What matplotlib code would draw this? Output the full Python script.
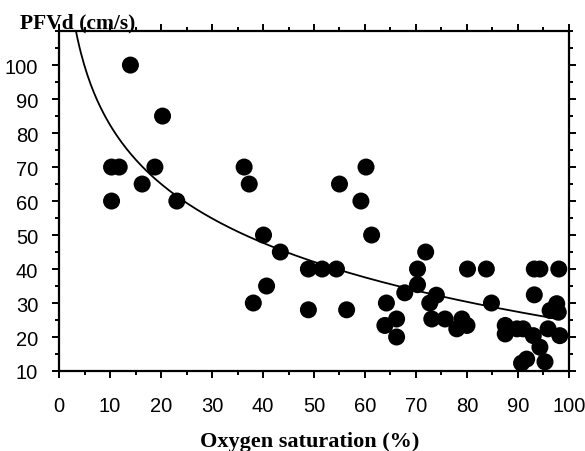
import numpy as np
import matplotlib
matplotlib.use("Agg")
import matplotlib.pyplot as plt
from matplotlib.ticker import MultipleLocator

# ── Data ──────────────────────────────────────────────────────────
oxygen_sat = [10.3, 10.3, 11.8, 14.0, 16.3, 18.8, 20.3, 23.1,
              36.3, 37.3, 38.1, 40.1, 40.7, 43.4,
              48.9, 48.9, 51.6, 54.4, 55.0, 56.4, 59.2, 60.2, 61.3,
              63.9, 64.2, 66.2, 66.2, 67.8, 70.3, 70.3, 71.9, 72.7, 74.0,
              73.1, 75.7, 78.0, 79.0, 80.0, 80.1, 83.8, 84.8,
              87.5, 87.5, 89.8, 91.0, 93.0, 94.3, 90.7, 91.7, 95.3,
              93.2, 94.3, 98.0, 93.2, 97.6, 96.3, 97.9, 95.9, 98.2]
pfvd = [60, 70, 70, 100, 65, 70, 85, 60,
        70, 65, 30, 50, 35, 45,
        40, 28, 40, 40, 65, 28, 60, 70, 50,
        23.4, 30, 25.3, 20, 33, 40, 35.4, 45, 30, 32.3,
        25.3, 25.3, 22.4, 25.3, 23.4, 40, 40, 30,
        23.4, 20.9, 22.4, 22.4, 20.4, 17, 12.3, 13.5, 12.7,
        40, 40, 40, 32.4, 29.8, 27.8, 27.3, 22.4, 20.4]

X_TICKS = [0, 10, 20, 30, 40, 50, 60, 70, 80, 90, 100]
Y_TICKS = [10, 20, 30, 40, 50, 60, 70, 80, 90, 100]

# ── Logarithmic regression curve fitted to the points ─────────────
x = np.array(oxygen_sat)
y = np.array(pfvd)
b, a = np.polyfit(np.log(x), y, 1)
x_fit = np.linspace(3.0, 98.2, 300)
y_fit = a + b * np.log(x_fit)

fig = plt.figure(figsize=(5.85, 4.52), dpi=100)
ax = fig.add_axes([0.1009, 0.177, 0.8717, 0.752])

ax.plot(x_fit, y_fit, color="black", lw=1.3, zorder=2)
ax.scatter(x, y, s=150, color="black", edgecolors="none", zorder=3)

ax.set_xlim(0, 100)
ax.set_ylim(10, 110)
ax.set_xticks(X_TICKS)
ax.set_yticks(Y_TICKS)
ax.xaxis.set_minor_locator(MultipleLocator(5))
ax.yaxis.set_minor_locator(MultipleLocator(5))

for s in ax.spines.values():
    s.set_linewidth(1.6)

ax.tick_params(which="both", direction="out", top=True, right=True,
               labeltop=False, labelright=False, width=1.4)
ax.tick_params(which="major", length=5)
ax.tick_params(which="minor", length=3)
ax.tick_params(axis="y", which="major", pad=10, labelsize=14.5)
ax.tick_params(axis="x", which="major", pad=13, labelsize=14.5)
for lab in ax.get_xticklabels() + ax.get_yticklabels():
    lab.set_fontfamily("Liberation Sans")

fig.text(0.034, 0.938, "PFVd (cm/s)", fontfamily="Liberation Serif",
         fontweight="bold", fontsize=15.5, va="baseline", ha="left")
fig.text(0.53, 0.012, "Oxygen saturation (%)", fontfamily="Liberation Serif",
         fontweight="bold", fontsize=16, va="baseline", ha="center")

fig.savefig("out.png", dpi=100)
